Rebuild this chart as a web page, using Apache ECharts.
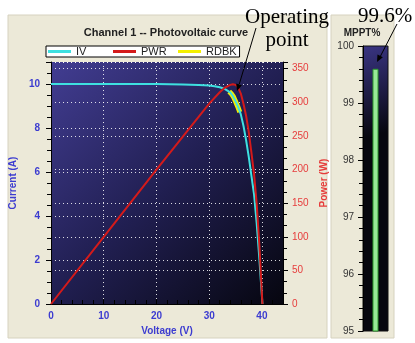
<!DOCTYPE html>
<html><head><meta charset="utf-8">
<script src="https://cdn.jsdelivr.net/npm/echarts@6/dist/echarts.min.js"></script>
<style>html,body{margin:0;padding:0;background:#fff}#c{width:415px;height:343px}</style>
</head><body><div id="c"></div>
<script>
// IV curve (Voltage V, Current A)
const ivVoltage = [0, 5, 10, 15, 20, 25, 28, 30, 31, 32, 33, 34, 34.5, 35, 35.5, 36, 36.5, 37, 37.5, 38, 38.5, 39, 39.5, 40.1];
const ivCurrent = [10, 10, 10, 10, 10, 9.98, 9.96, 9.93, 9.9, 9.85, 9.77, 9.62, 9.45, 9.22, 8.95, 8.62, 8.1, 7.45, 6.7, 5.85, 5.0, 3.7, 2.1, 0];
// Power curve (Voltage V, Power W)
const pwrVoltage = [0, 10, 20, 30, 32, 33, 34, 34.5, 35, 35.5, 36, 36.5, 37, 37.5, 38, 38.5, 39, 39.5, 40.1];
const pwrPower = [0, 100, 200, 298, 315, 322, 326, 327, 326, 322, 313, 298, 280, 256, 226, 194, 150, 90, 0];
// Readback points (RDBK)
const rdbkVoltage = [33.8, 34.2, 34.6, 35.0, 35.4, 35.8];
const rdbkCurrent = [9.66, 9.56, 9.42, 9.2, 8.98, 8.72];
// MPPT efficiency gauge
const mpptCategories = ['MPPT'];
const mpptValues = [99.6];

const FONT = '"Liberation Sans", Arial, sans-serif';
const SERIF = '21px "Liberation Serif", "Times New Roman", serif';
const BLUE = '#3c3cd0';
const RED = '#e63c3c';
const GRID_LINE = {show: true, lineStyle: {color: 'rgba(255,255,255,0.85)', type: [1, 3], width: 1}};
const zip = (a, b) => a.map((v, i) => [v, b[i]]);

const chart = echarts.init(document.getElementById('c'), null, {renderer: 'canvas'});
const plotBg = {type: 'linear', x: 0, y: 0, x2: 1, y2: 1,
  colorStops: [{offset: 0, color: '#423d92'}, {offset: 0.5, color: '#211f52'}, {offset: 1, color: '#06060f'}]};
const gaugeBg = {type: 'linear', x: 0, y: 0, x2: 1, y2: 0.3,
  colorStops: [{offset: 0, color: '#3a3584'}, {offset: 1, color: '#07070f'}]};

chart.setOption({
  backgroundColor: '#ffffff',
  animation: false,
  textStyle: {fontFamily: FONT},
  graphic: [
    {type: 'rect', z: -10, shape: {x: 8, y: 15, width: 319, height: 323}, style: {fill: '#ece9d8', stroke: '#d6d2bf', lineWidth: 1}},
    {type: 'rect', z: -10, shape: {x: 331, y: 15, width: 63, height: 323}, style: {fill: '#ece9d8', stroke: '#d6d2bf', lineWidth: 1}},
    {type: 'text', z: 10, x: 166, y: 33, style: {text: 'Channel 1 -- Photovoltaic curve', font: 'bold 11px ' + FONT, fill: '#222', textAlign: 'center', textVerticalAlign: 'middle'}},
    {type: 'text', z: 10, x: 362, y: 33, style: {text: 'MPPT%', font: 'bold 10px ' + FONT, fill: '#222', textAlign: 'center', textVerticalAlign: 'middle'}},
    {type: 'text', z: 100, x: 287, y: 17, style: {text: 'Operating', font: SERIF, fill: '#000', textAlign: 'center', textVerticalAlign: 'middle'}},
    {type: 'text', z: 100, x: 287, y: 40, style: {text: 'point', font: SERIF, fill: '#000', textAlign: 'center', textVerticalAlign: 'middle'}},
    {type: 'text', z: 100, x: 385, y: 16, style: {text: '99.6%', font: SERIF, fill: '#000', textAlign: 'center', textVerticalAlign: 'middle'}},
    {type: 'line', z: 100, shape: {x1: 256, y1: 28, x2: 239, y2: 85}, style: {stroke: '#000', lineWidth: 1}},
    {type: 'polygon', z: 100, shape: {points: [[237, 91], [241.9, 85.2], [236.2, 83.4]]}, style: {fill: '#000'}},
    {type: 'line', z: 100, shape: {x1: 397, y1: 24, x2: 380, y2: 57}, style: {stroke: '#000', lineWidth: 1}},
    {type: 'polygon', z: 100, shape: {points: [[377, 62], [382.9, 57.2], [377.5, 54.4]]}, style: {fill: '#000'}}
  ],
  legend: {
    left: 46, top: 46, orient: 'horizontal',
    data: ['IV', 'PWR', 'RDBK'],
    icon: 'rect', itemWidth: 23, itemHeight: 3, itemGap: 9,
    backgroundColor: '#ffffff', borderColor: '#000', borderWidth: 1, borderRadius: 0,
    padding: [0, 3, 0, 2],
    textStyle: {fontSize: 11, color: '#222', width: 28, lineHeight: 11, fontFamily: FONT},
    selectedMode: false
  },
  grid: [
    {left: 45, top: 62, width: 238, height: 242, show: true, backgroundColor: plotBg, borderWidth: 0},
    {left: 363, top: 46, width: 25, height: 285, show: true, backgroundColor: gaugeBg, borderColor: '#111', borderWidth: 1}
  ],
  xAxis: [
    {type: 'value', gridIndex: 0, min: 0, max: 44, interval: 10,
     name: 'Voltage (V)', nameLocation: 'middle', nameGap: 22,
     nameTextStyle: {color: BLUE, fontWeight: 'bold', fontSize: 10},
     axisLine: {show: true, lineStyle: {color: '#000'}},
     axisTick: {show: true, inside: true, length: 5, lineStyle: {color: '#000'}},
     minorTick: {show: true, splitNumber: 5, length: 4, lineStyle: {color: '#000'}},
     axisLabel: {color: BLUE, fontSize: 10, fontWeight: 'bold', margin: 7, showMaxLabel: false},
     splitLine: GRID_LINE},
    {type: 'category', gridIndex: 1, data: mpptCategories, show: false}
  ],
  yAxis: [
    {type: 'value', gridIndex: 0, min: 0, max: 11, interval: 2, position: 'left',
     name: 'Current (A)', nameLocation: 'middle', nameGap: 22,
     nameTextStyle: {color: BLUE, fontWeight: 'bold', fontSize: 10},
     axisLine: {show: true, lineStyle: {color: '#000'}},
     axisTick: {show: true, length: 5, lineStyle: {color: '#000'}},
     minorTick: {show: true, splitNumber: 4, length: 4, lineStyle: {color: '#000'}},
     axisLabel: {color: BLUE, fontSize: 10, fontWeight: 'bold', margin: 11, showMaxLabel: false},
     splitLine: GRID_LINE},
    {type: 'value', gridIndex: 0, min: 0, max: 360, interval: 50, position: 'right',
     name: 'Power (W)', nameLocation: 'middle', nameGap: 29, nameRotate: 90,
     nameTextStyle: {color: RED, fontWeight: 'bold', fontSize: 10},
     axisLine: {show: true, lineStyle: {color: '#000'}},
     axisTick: {show: true, length: 5, lineStyle: {color: '#000'}},
     minorTick: {show: true, splitNumber: 3, length: 4, lineStyle: {color: '#000'}},
     axisLabel: {color: RED, fontSize: 10, margin: 9, showMaxLabel: false},
     splitLine: GRID_LINE},
    {type: 'value', gridIndex: 1, min: 95, max: 100, interval: 1, position: 'left',
     axisLine: {show: true, lineStyle: {color: '#000'}},
     axisTick: {show: true, length: 5, lineStyle: {color: '#000'}},
     minorTick: {show: true, splitNumber: 5, length: 4, lineStyle: {color: '#000'}},
     axisLabel: {color: '#333', fontSize: 10, margin: 9},
     splitLine: {show: false}}
  ],
  series: [
    {name: 'RDBK', type: 'line', xAxisIndex: 0, yAxisIndex: 0, data: zip(rdbkVoltage, rdbkCurrent),
     showSymbol: false, smooth: false, z: 2, lineStyle: {color: '#f4f000', width: 5}, itemStyle: {color: '#f4f000'}},
    {name: 'IV', type: 'line', xAxisIndex: 0, yAxisIndex: 0, data: zip(ivVoltage, ivCurrent),
     showSymbol: false, smooth: false, z: 3, lineStyle: {color: '#3ee0e0', width: 2}, itemStyle: {color: '#3ee0e0'}},
    {name: 'PWR', type: 'line', xAxisIndex: 0, yAxisIndex: 1, data: zip(pwrVoltage, pwrPower),
     showSymbol: false, smooth: false, z: 4, lineStyle: {color: '#d41a1a', width: 2}, itemStyle: {color: '#d41a1a'}},
    {name: 'MPPT', type: 'bar', xAxisIndex: 1, yAxisIndex: 2, data: mpptValues, barWidth: 6,
     itemStyle: {color: '#98e898', borderColor: '#2e9a2e', borderWidth: 1}}
  ]
});
</script>
</body></html>
